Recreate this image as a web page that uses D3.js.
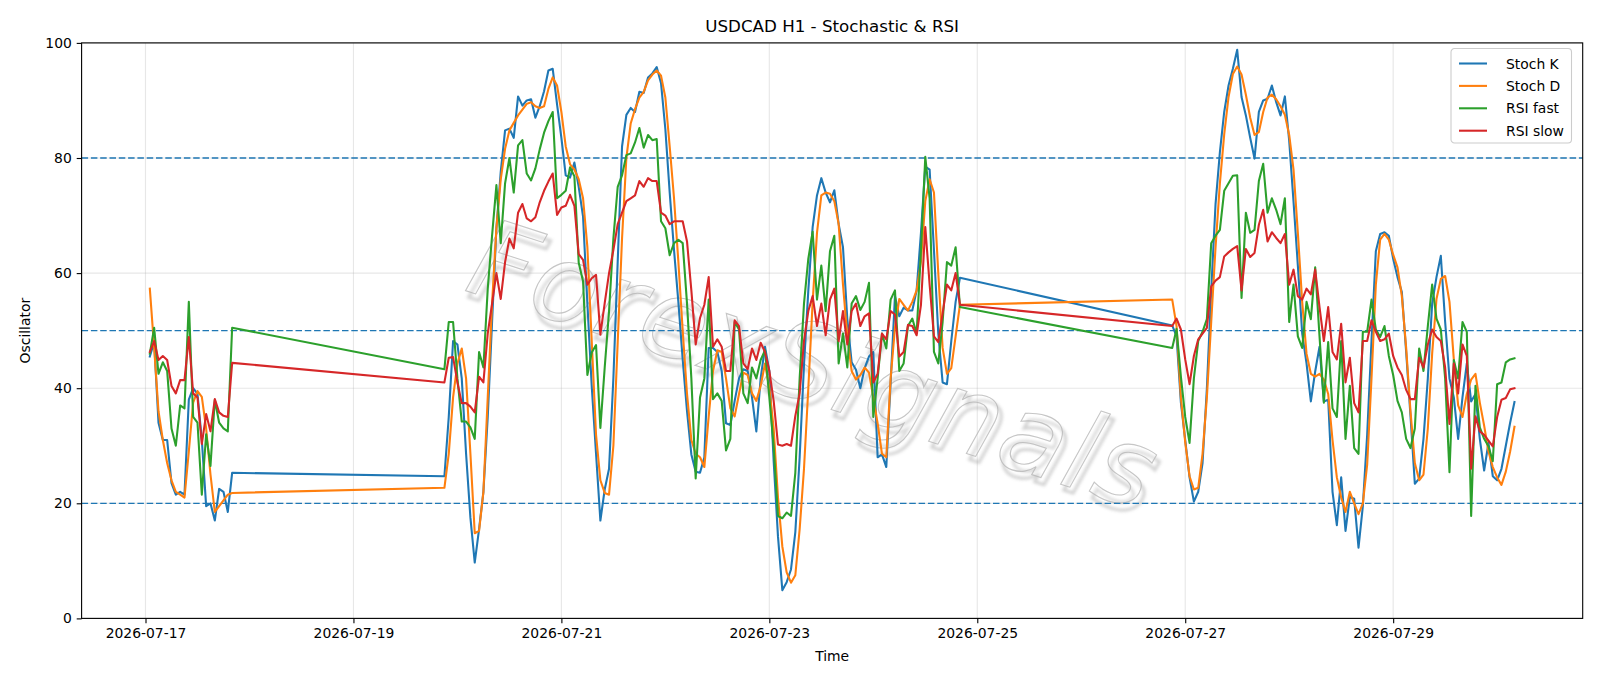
<!DOCTYPE html>
<html><head><meta charset="utf-8">
<script src="https://cdn.jsdelivr.net/npm/d3@7"></script>
<style>
html,body{margin:0;padding:0;background:#fff;}
svg{display:block;font-family:"DejaVu Sans",sans-serif;}
</style></head>
<body><svg id="chart" width="1600" height="686"></svg>
<script>
// ---------------- data ----------------
const chartTitle = "USDCAD H1 - Stochastic & RSI";
const xLabel = "Time";
const yLabel = "Oscillator";
const watermarkText = "ForexSignals";
const segmentStarts = ["2026-07-17T01:00:00Z", "2026-07-19T21:00:00Z", "2026-07-26T21:00:00Z"];
const segmentLengths = [20, 120, 80];
const seriesNames = ["Stoch K", "Stoch D", "RSI fast", "RSI slow"];
const xTickLabels = ["2026-07-17", "2026-07-19", "2026-07-21", "2026-07-23", "2026-07-25", "2026-07-27", "2026-07-29"];
const yTickValues = [0, 20, 40, 60, 80, 100];
const levelValues = [20, 50, 80];

const stochK = [
45.5,48,34,31,31,23.5,21.5,22,21.5,38, 40,39,31,19.5,20,17,22.5,22,18.5,25.3,
24.7,35,48.2,47.6,41.7,28.6,17.5,9.7,15.5,22,
35,51.5,67.8,77.6,84.8,85.1,83.5,90.7,89.1,90,
90.2,87,89,91.6,95.2,95.5,89.3,83.5,77,76.6,
79.2,75,69.8,54.7,40.4,28.6,17,22.4,26,41.7,
62,82,87.5,88.7,88,91.5,91.3,94,94.7,95.8,
93,85,74,64,55,45,36,28.5,25.5,25.3,
28,47,47,46.3,43,33.9,33.6,37.8,41.7,43.3,
43,38.4,32.5,41.7,47.2,43,27.3,14.2,4.9,6.3,
8.5,15,28,44,57,68,73.5,76.5,74,72.3,
74.4,68.5,64.5,52,44.5,43.2,40,43.5,45.5,46.3,
28,28.5,26.3,41,56,52.5,54,53.5,53.5,57,
67,78.5,78,64,49.5,41,40.7,48.2,55,59.2,
50.9,49,37.5,31,24.5,20.3,22,27,40,57,
72,81,88,92.6,95.5,98.8,90.6,87.4,83.5,79.9,
88,90,90.3,92.6,89.7,87.4,90.7,83,72.4,61.3,
49.5,44.3,37.7,42.9,47.2,37.7,38,22,16.2,24.5,
15.2,21.1,20.8,12.3,19.5,31.9,48.2,63.8,66.8,67.1,
66.5,62.5,59.3,56.7,46.3,35.2,23.4,24.3,31.2,41.7,
54.7,59.3,63,51.5,41.7,38.4,31.2,38.4,44.3,37.7,
39,31.2,25.7,30.5,24.7,24,26,30,34,37.6
];
const stochD = [
57.3,47,36,31,27,24,22,21.5,21,29, 37.5,39.5,38.5,33,25,18.5,19.5,20.5,21.5,21.8,
22.7,28.6,38.4,44.3,46.9,41.7,28.6,14.8,15.2,22,
38.4,54.7,67.8,76.3,81.6,84.8,86.1,87.4,88.4,89.4,
89.7,89,88.7,89,92,94,92.6,88,82,78.9,
78,76.3,73,64.5,48.2,31.9,24,21.8,21.5,30,
48,66,80,86,88.5,90.5,91.5,93.5,94.5,95.2,
94.3,90.5,82,73,62,50,39,31,28.6,28,
26.3,35.1,43,46.6,46.3,41.7,36.5,35.1,39,42.7,
42.3,39.1,37.8,40.4,44.3,40,33,21,12.5,8,
6.2,7.5,15.5,26,40,55,67,73.5,74,73.8,
72.5,68.5,58,49,43,41.5,42.3,43.6,42.7,38.4,
33.9,28.6,28,41.7,50.5,55.5,54.5,53.5,55,57,
62,72.5,76.3,74,60,47,42.5,43.5,49,54.5,
55.4,50.8,38.4,30.6,24.7,22.4,22.7,28.6,38.4,51.5,
64.5,75.6,84.1,90.6,94.6,95.9,94.5,91,87,84,
84.5,88,90.5,91,90.2,89,87.5,84,78,67,
55,46,42.5,42,42.5,41.5,39,31,24.5,21,
18.5,22,20,18.1,20,26.7,41.7,58,65.8,66.8,
65.8,63.2,61,56,47,36,27,24,25,33,
46,55.5,59,59.5,55,45,37,35,39,41.5,
42.5,37.5,33.5,29,26.3,24.5,23.2,25.5,29,33.3
];
const rsiFast = [
46,50.5,42.5,44.5,43,33,30,37,36.5,55, 35,34,21.5,32,26.5,38,34,33,32.5,50.5,
43.3,51.5,51.5,41.7,34.2,34.2,33.2,31.2,46.3,43.6,
57.3,66.5,75.3,65.2,75.6,80,74,82.2,83.1,77.3,
76.1,78.2,81.5,84.4,86.4,88,73,73.6,74.3,78.4,
76.8,61.8,58.6,42.3,46.2,47.5,33.1,43.6,53.4,66,
75,77,80.5,80.8,82.7,85.2,81.8,84,83.1,83.3,
69,67.8,63.1,65.2,65.8,65.2,54.7,41.7,24.3,38.4,
41.7,55.4,38.1,39.1,37.8,29.2,31.2,51.5,50.2,39.1,
37.4,43.6,41.7,44.9,46.6,38.4,29.9,17.8,17.4,18.4,
17.8,25.3,41.7,54.7,62.5,67.2,55.4,61.3,53.4,63.8,
66.5,44.3,49.5,43.6,54.7,56,53.6,55,58.3,35,
41.7,49.5,46.9,55.4,57,43,44.3,50.8,52.1,49.5,
63.9,80.2,73,46.3,44.3,51.5,61.9,61.3,64.5,54.1,
47,50.3,42,35,30.5,41.7,48.2,49.8,52,65.2,
66.5,67.5,74.3,75.6,76.9,77,55.7,70.5,67,67.5,
76,79,70.5,73,71,68.5,73,51.5,58,49,
47,55,52,61,49,37.5,48,36.5,35,48.2,
31.2,40.4,29.6,28.6,49.8,49.8,55.4,50.2,48.9,50.8,
45.6,42.3,37.8,35.8,31.2,29.6,33,46.9,43,50.8,
58,52.1,50.2,41.7,25.4,44.9,41.7,51.5,49.8,17.8,
40.4,33.2,31.2,29.9,27.3,40.7,41,44.5,45,45.2
];
const rsiSlow = [
46.3,48.2,44.9,45.6,44.9,40.4,39.1,41.4,41.4,48.9, 39.1,38.4,30.3,35.5,32.5,38.1,35.8,35.2,35,44.4,
41,45.3,45.4,41,37.4,37.4,36.8,35.8,42,41,
49.5,54.7,60,55.5,61.9,66,64.3,70.5,72,69.5,
69,69.7,72.3,74.3,75.9,77.3,70.1,71.4,71.7,73.6,
71.7,63.3,62.3,58,59.1,59.7,49.3,54.8,60,64,
68.5,70.5,72.5,73,73.5,76,75,76.5,76,76,
70.5,70,68.5,69,69,69,65.5,57,47.6,52.2,
54.5,59.3,47.2,48.5,47.2,43,43,51.8,50.8,44.3,
43.3,46.9,44.9,47.9,46.3,43,37.8,30.2,30,30.3,
30,35.2,39.1,48.2,53.4,56,50.8,54.7,49.2,55.4,
57.3,48.2,53.4,47.6,53.4,54.7,50.8,52.5,53,41,
42.5,49.5,48.5,53.4,52.8,45.5,46.3,51,50.8,49.2,
54.5,68,58,49,48,53,58,57,60,54.5,
50.8,52.1,50.2,45,40.7,45.6,48.5,49.5,50.5,57.7,
58.7,59.3,62.9,63.6,64.2,64.7,57,64.2,62.8,63.5,
68.4,71,65.5,67.1,66.1,65.2,66.8,58,60.6,56,
55.4,57.3,56.3,60.6,54.1,48.2,54.1,46.3,45,51.2,
41,45.3,37.4,35.8,48.2,48.2,51.8,49.8,48.2,48.5,
49.5,45.6,43.6,42.3,39.7,38.1,38.1,45.3,43.6,47.6,
50.2,48.9,48.2,43.6,33.8,44.3,39.1,47.6,45.6,26,
35.1,32.5,31.9,30.9,29.9,35,38,38.3,39.8,40
];

// ---------------- layout & styles ----------------
const W = 1600, H = 686;
const M = {left: 81.6, right: 1582.7, top: 42.9, bottom: 618.4};
const colors = ["#1f77b4", "#ff7f0e", "#2ca02c", "#d62728"];
const fs = 13.9;

// hourly timestamps for each trading segment
const times = [];
segmentStarts.forEach((s, i) => {
  const t0 = Date.parse(s);
  for (let k = 0; k < segmentLengths[i]; k++) times.push(new Date(t0 + k * 3600e3));
});
const allSeries = [stochK, stochD, rsiFast, rsiSlow];

const svg = d3.select("#chart");
const defs = svg.append("defs");
const f = defs.append("filter").attr("id", "blur").attr("x", "-10%").attr("y", "-10%").attr("width", "120%").attr("height", "120%");
f.append("feGaussianBlur").attr("stdDeviation", 1.6);

const tMin = d3.min(times), tMax = d3.max(times);
const pad = (tMax - tMin) * 0.05;
const x = d3.scaleUtc().domain([new Date(+tMin - pad), new Date(+tMax + pad)]).range([M.left, M.right]);
const y = d3.scaleLinear().domain([0, 100]).range([M.bottom, M.top]);

// grid
const grid = svg.append("g");
const xTicks = xTickLabels.map(s => new Date(s + "T00:00:00Z"));
grid.selectAll("line.gx").data(xTicks).join("line")
  .attr("x1", d => x(d)).attr("x2", d => x(d)).attr("y1", M.top).attr("y2", M.bottom)
  .attr("stroke", "#b0b0b0").attr("stroke-opacity", 0.3).attr("stroke-width", 1.1);
grid.selectAll("line.gy").data(yTickValues).join("line")
  .attr("x1", M.left).attr("x2", M.right).attr("y1", d => y(d)).attr("y2", d => y(d))
  .attr("stroke", "#b0b0b0").attr("stroke-opacity", 0.3).attr("stroke-width", 1.1);

// watermark
const wx = 812, wy = 372;
const wm = svg.append("g").attr("transform", `translate(${wx},${wy}) rotate(18)`);
wm.append("text").attr("x", 5).attr("y", 5).attr("text-anchor", "middle").attr("dominant-baseline", "middle")
  .attr("font-size", 108).attr("font-style", "italic").attr("fill", "none").attr("letter-spacing", 2)
  .attr("stroke", "#9a9a9a").attr("stroke-width", 3).attr("opacity", 0.45).attr("filter", "url(#blur)").text(watermarkText);
wm.append("text").attr("text-anchor", "middle").attr("dominant-baseline", "middle")
  .attr("font-size", 108).attr("font-style", "italic").attr("fill", "#ffffff").attr("fill-opacity", 0.25).attr("letter-spacing", 2)
  .attr("stroke", "#b8b8b8").attr("stroke-width", 1.1).attr("opacity", 0.8).text(watermarkText);

// level lines
svg.append("g").selectAll("line").data(levelValues).join("line")
  .attr("x1", M.left).attr("x2", M.right).attr("y1", d => y(d)).attr("y2", d => y(d))
  .attr("stroke", "#1f77b4").attr("stroke-width", 1.3).attr("stroke-dasharray", "6.5,2.8");

// series lines
const line = d3.line().x((d, i) => x(times[i])).y(d => y(d));
svg.append("g").selectAll("path").data(allSeries).join("path")
  .attr("d", d => line(d)).attr("fill", "none")
  .attr("stroke", (d, i) => colors[i]).attr("stroke-width", 2.08)
  .attr("stroke-linejoin", "round").attr("stroke-linecap", "square");

// axes
const xAxis = d3.axisBottom(x).tickValues(xTicks).tickFormat(d3.utcFormat("%Y-%m-%d")).tickSize(4.9).tickPadding(4.9);
const yAxis = d3.axisLeft(y).tickValues(yTickValues).tickSize(4.9).tickPadding(4.9);
const gx = svg.append("g").attr("transform", `translate(0,${M.bottom})`).call(xAxis);
const gy = svg.append("g").attr("transform", `translate(${M.left},0)`).call(yAxis);
[gx, gy].forEach(g => {
  g.select(".domain").remove();
  g.selectAll(".tick line").attr("stroke", "#000").attr("stroke-width", 1.1);
  g.selectAll(".tick text").attr("font-size", fs).attr("font-family", "DejaVu Sans").attr("fill", "#000");
});

// frame
svg.append("rect").attr("x", M.left).attr("y", M.top).attr("width", M.right - M.left).attr("height", M.bottom - M.top)
  .attr("fill", "none").attr("stroke", "#000").attr("stroke-width", 1.1);

// title & labels
svg.append("text").attr("x", (M.left + M.right) / 2).attr("y", 32).attr("text-anchor", "middle")
  .attr("font-size", 16.7).text(chartTitle);
svg.append("text").attr("x", (M.left + M.right) / 2).attr("y", 661).attr("text-anchor", "middle")
  .attr("font-size", fs).text(xLabel);
svg.append("text").attr("transform", `translate(30,${(M.top + M.bottom) / 2}) rotate(-90)`)
  .attr("text-anchor", "middle").attr("font-size", fs).text(yLabel);

// legend
const lg = svg.append("g").attr("transform", "translate(1451,48.5)");
lg.append("rect").attr("width", 120.5).attr("height", 94.5).attr("rx", 3.5)
  .attr("fill", "#fff").attr("fill-opacity", 0.8).attr("stroke", "#cccccc").attr("stroke-width", 1.1);
seriesNames.forEach((n, i) => {
  const yy = 15 + i * 22.4;
  lg.append("line").attr("x1", 8).attr("x2", 36).attr("y1", yy).attr("y2", yy)
    .attr("stroke", colors[i]).attr("stroke-width", 2.08);
  lg.append("text").attr("x", 55).attr("y", yy + 5).attr("font-size", fs).text(n);
});
</script>
</body></html>
